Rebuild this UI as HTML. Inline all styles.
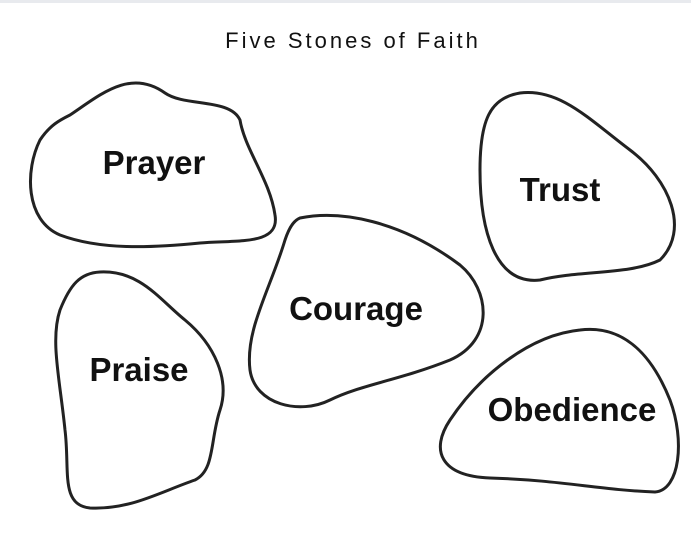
<!DOCTYPE html>
<html><head><style>
html,body{margin:0;padding:0;background:#fff;}
svg{display:block;}
</style></head><body>
<svg width="691" height="534" viewBox="0 0 691 534" xmlns="http://www.w3.org/2000/svg">
<rect x="0" y="0" width="691" height="3" fill="#e8eaee"/>
<text x="353" y="48" text-anchor="middle" font-family="Liberation Sans, sans-serif" font-size="22" letter-spacing="3" fill="#111">Five Stones of Faith</text>
<g fill="none" stroke="#222" stroke-width="3">
<path d="M70,115 C100,95 130,68 165,93 C185,107 230,98 240,120 C245,150 270,180 275,215 C280,245 240,240 200,243 C150,248 100,250 60,235 C25,220 25,170 40,140 C50,125 60,120 70,115 Z"/>
<path d="M520,93 C560,88 590,120 630,150 C670,180 690,230 660,260 C630,275 580,270 540,280 C495,285 480,230 480,170 C480,120 490,98 520,93 Z"/>
<path d="M300,218 C340,210 400,220 460,265 C490,290 495,340 450,360 C400,380 360,385 330,400 C300,415 255,405 250,370 C245,330 270,290 285,240 C290,225 295,220 300,218 Z"/>
<path d="M100,272 C140,270 160,300 185,320 C215,345 230,380 220,410 C210,440 215,470 195,480 C160,492 130,510 90,508 C60,505 70,470 65,430 C60,380 50,340 60,310 C70,285 80,273 100,272 Z"/>
<path d="M580,330 C620,325 650,350 670,400 C685,440 680,490 655,492 C600,490 560,480 490,478 C440,476 430,450 450,420 C480,375 530,335 580,330 Z"/>
</g>
<g font-family="Liberation Sans, sans-serif" font-weight="bold" font-size="33" text-anchor="middle" fill="#111">
<text x="154" y="174">Prayer</text>
<text x="560" y="201">Trust</text>
<text x="356" y="320">Courage</text>
<text x="139" y="381">Praise</text>
<text x="572" y="421">Obedience</text>
</g>
</svg>
</body></html>
